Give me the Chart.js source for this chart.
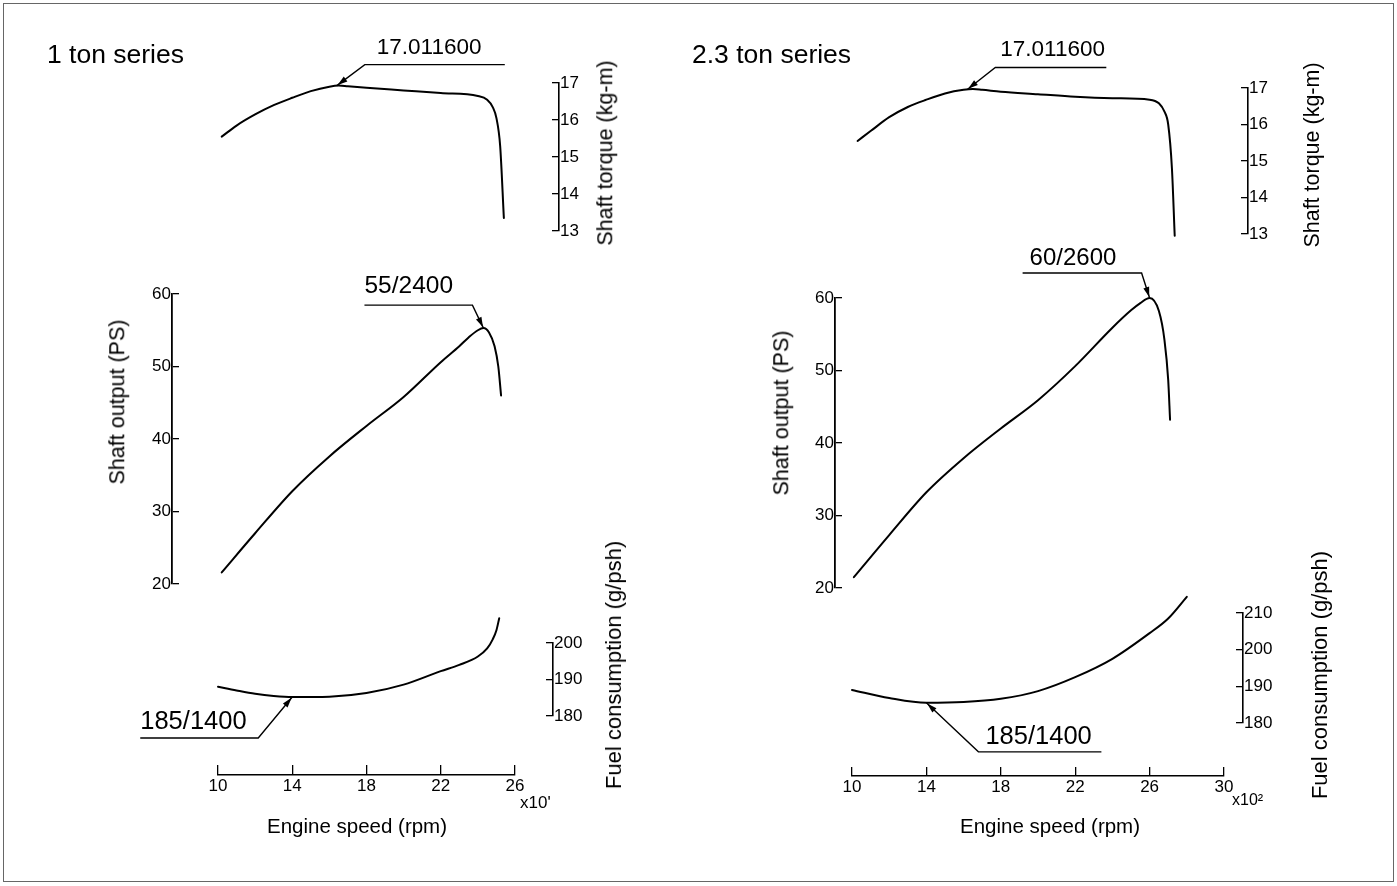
<!DOCTYPE html>
<html>
<head>
<meta charset="utf-8">
<script src="https://cdn.jsdelivr.net/npm/chart.js@4.4.1/dist/chart.umd.min.js"></script>
<style>
  html, body { margin:0; padding:0; background:#fff; }
  #root { position:relative; width:1397px; height:886px; overflow:hidden; font-family:"Liberation Sans", Arial, sans-serif; color:#000; }
  .frame { position:absolute; left:3px; top:3px; width:1389px; height:877px; border:1px solid #666; }
  .txt { position:absolute; white-space:nowrap; line-height:1; }
  .vt { position:absolute; white-space:nowrap; line-height:1; transform:translate(-50%,-50%) rotate(-90deg); }
  .ct { position:absolute; white-space:nowrap; line-height:1; transform:translate(-50%,-50%); }
  canvas { position:absolute; left:0; top:0; }
</style>
</head>
<body>
<div id="root"><div class="frame"></div></div>
<script>
// ---------------- DATA ----------------
// Left panel: 1 ton series
const rpmTorque1   = [1020, 1100, 1200, 1300, 1400, 1500, 1600, 1650, 1700, 1800, 2000, 2200, 2400, 2450, 2480, 2500, 2520, 2540];
const torque1      = [15.55, 15.85, 16.15, 16.4, 16.6, 16.78, 16.9, 16.93, 16.91, 16.87, 16.8, 16.73, 16.65, 16.55, 16.35, 16.05, 15.3, 13.35];
const rpmOutput1   = [1020, 1200, 1400, 1600, 1800, 2000, 2200, 2300, 2350, 2400, 2430, 2460, 2490, 2510, 2525];
const output1      = [21.6, 27.0, 32.8, 37.6, 41.8, 45.8, 50.6, 52.8, 54.0, 55.0, 55.3, 54.7, 52.8, 50.0, 46.0];
const rpmFuel1     = [1000, 1100, 1200, 1300, 1400, 1600, 1800, 2000, 2200, 2300, 2400, 2450, 2480, 2500, 2515];
const fuel1        = [188, 187, 186.1, 185.5, 185.2, 185.3, 186.3, 188.6, 192.3, 194, 196.3, 198.5, 201, 203.5, 206.8];

// Right panel: 2.3 ton series
const rpmTorque2   = [1030, 1100, 1200, 1300, 1400, 1500, 1600, 1650, 1700, 1800, 2000, 2200, 2400, 2600, 2650, 2680, 2700, 2720, 2735];
const torque2      = [15.55, 15.82, 16.2, 16.48, 16.68, 16.85, 16.95, 16.97, 16.95, 16.9, 16.83, 16.76, 16.72, 16.68, 16.58, 16.35, 16.0, 14.8, 12.95];
const rpmOutput2   = [1010, 1200, 1400, 1600, 1800, 2000, 2200, 2400, 2500, 2550, 2600, 2650, 2680, 2700, 2710];
const output2      = [21.5, 27.3, 33.2, 37.9, 42.0, 45.9, 50.6, 55.9, 58.3, 59.3, 60.0, 58.2, 54.2, 48.7, 43.2];
const rpmFuel2     = [1000, 1200, 1400, 1600, 1800, 2000, 2200, 2400, 2600, 2700, 2800];
const fuel2        = [189, 186.8, 185.5, 185.7, 186.6, 188.7, 192.5, 197.5, 204.5, 208.5, 214.4];

// Tick labels
const xTicks1       = [10, 14, 18, 22, 26];        // x100 rpm
const xTicks2       = [10, 14, 18, 22, 26, 30];
const torqueTicks   = [13, 14, 15, 16, 17];
const outputTicks   = [20, 30, 40, 50, 60];
const fuelTicks1    = [180, 190, 200];
const fuelTicks2    = [180, 190, 200, 210];

// Annotations: [rpm, value, label]
const annTorque1 = [1640, 16.93, '17.011600'];
const annOutput1 = [2430, 55.3, '55/2400'];
const annFuel1   = [1400, 185.2, '185/1400'];
const annTorque2 = [1620, 16.96, '17.011600'];
const annOutput2 = [2600, 60.0, '60/2600'];
const annFuel2   = [1400, 185.5, '185/1400'];

// ---------------- LAYOUT / STYLE ----------------
const FONT = '"Liberation Sans", Arial, sans-serif';
const root = document.getElementById('root');
Chart.defaults.font.family = FONT;
Chart.defaults.color = '#000';

function addChart(left, top, width, height, config) {
  const div = document.createElement('div');
  div.style.cssText = `position:absolute;left:${left}px;top:${top}px;width:${width}px;height:${height}px;`;
  const c = document.createElement('canvas');
  c.width = width; c.height = height;
  c.style.width = width + 'px'; c.style.height = height + 'px';
  div.appendChild(c); root.appendChild(div);
  config.options = Object.assign({ responsive:false, animation:false, devicePixelRatio:1,
    events:[] }, config.options);
  config.options.plugins = Object.assign({ legend:{display:false}, tooltip:{enabled:false} }, config.options.plugins || {});
  return new Chart(c, config);
}

function leader(ann, geom) {
  return {
    id: 'leader',
    afterDatasetsDraw(chart) {
      const { ctx, scales } = chart;
      const ax = scales.x.getPixelForValue(ann[0]);
      const ay = scales.y.getPixelForValue(ann[1]);
      ctx.save();
      ctx.strokeStyle = '#000'; ctx.fillStyle = '#000'; ctx.lineWidth = 1.4;
      ctx.beginPath(); ctx.moveTo(ax, ay);
      geom.path.forEach(([dx, dy]) => ctx.lineTo(ax + dx, ay + dy));
      ctx.stroke();
      const [dx, dy] = geom.path[0];
      const L = Math.hypot(dx, dy), ux = dx / L, uy = dy / L, len = 11, w = 3;
      ctx.beginPath();
      ctx.moveTo(ax + ux, ay + uy);
      ctx.lineTo(ax + ux * len - uy * w, ay + uy * len + ux * w);
      ctx.lineTo(ax + ux * len + uy * w, ay + uy * len - ux * w);
      ctx.closePath(); ctx.fill();
      ctx.font = `${geom.size}px ${FONT}`;
      ctx.textAlign = 'left'; ctx.textBaseline = 'middle';
      ctx.fillText(ann[2], ax + geom.text[0], ay + geom.text[1]);
      ctx.restore();
    }
  };
}

// Data chart: chart area equals the band exactly
function dataChart(panel, band, xs, ys, yMin, yMax, ann, geom) {
  const P = 110;
  const w = panel.x1 - panel.x0, h = band.bottom - band.top;
  addChart(panel.x0 - P, band.top - P, w + 2 * P, h + 2 * P, {
    type: 'line',
    data: { datasets: [{
      data: xs.map((x, i) => ({ x, y: ys[i] })),
      borderColor: '#000', borderWidth: 2, pointRadius: 0, fill: false,
      cubicInterpolationMode: 'monotone', clip: false, borderCapStyle: 'round', borderJoinStyle: 'round'
    }] },
    options: {
      layout: { padding: P },
      scales: {
        x: { type: 'linear', min: panel.xmin, max: panel.xmax, display: false },
        y: { type: 'linear', min: yMin, max: yMax, display: false }
      }
    },
    plugins: [leader(ann, geom)]
  });
}

const tickFont = { size: 17, family: FONT };

// Vertical axis with tick marks to the left of the line and labels to the right
function axisTicksLeft(lineX, band, tickVals, tick) {
  const P = 15, W = 50;
  const h = band.bottom - band.top;
  addChart(lineX - tick, band.top - P, tick + W, h + 2 * P, {
    type: 'scatter', data: { datasets: [] },
    options: {
      layout: { padding: { top: P, bottom: P, left: 0, right: 0 } },
      scales: {
        x: { display: false },
        y: { type: 'linear', position: 'right', min: tickVals[0], max: tickVals[tickVals.length - 1],
             afterBuildTicks: s => { s.ticks = tickVals.map(v => ({ value: v })); },
             afterFit: s => { s.width = W; },
             ticks: { padding: 1, font: tickFont, color: '#000' },
             grid: { drawOnChartArea: true, drawTicks: false, color: '#000', lineWidth: 1.3 },
             border: { display: true, color: '#000', width: 1.6 } }
      }
    }
  });
}

// Vertical axis with tick marks to the right of the line and labels to the left
function axisTicksRight(lineX, band, tickVals, tick) {
  const P = 15, W = 50;
  const h = band.bottom - band.top;
  addChart(lineX - W, band.top - P, tick + W, h + 2 * P, {
    type: 'scatter', data: { datasets: [] },
    options: {
      layout: { padding: { top: P, bottom: P, left: 0, right: 0 } },
      scales: {
        x: { display: false },
        y: { type: 'linear', position: 'left', min: tickVals[0], max: tickVals[tickVals.length - 1],
             afterBuildTicks: s => { s.ticks = tickVals.map(v => ({ value: v })); },
             afterFit: s => { s.width = W; },
             ticks: { padding: 1, font: tickFont, color: '#000' },
             grid: { drawOnChartArea: true, drawTicks: false, color: '#000', lineWidth: 1.3 },
             border: { display: true, color: '#000', width: 1.8 } }
      }
    }
  });
}

// Horizontal axis with ticks pointing up and labels below
function axisX(panel, axisY, tickVals, tick) {
  const Q = 20, H = 30;
  addChart(panel.x0 - Q, axisY - tick, panel.x1 - panel.x0 + 2 * Q, tick + H, {
    type: 'scatter', data: { datasets: [] },
    options: {
      layout: { padding: { left: Q, right: Q, top: 0, bottom: 0 } },
      scales: {
        y: { display: false },
        x: { type: 'linear', position: 'bottom', min: panel.xmin, max: panel.xmax,
             afterBuildTicks: s => { s.ticks = tickVals.map(v => ({ value: v * 100 })); },
             afterFit: s => { s.height = H; },
             ticks: { padding: 1, font: tickFont, color: '#000', callback: v => String(v / 100), maxRotation: 0 },
             grid: { drawOnChartArea: true, drawTicks: false, color: '#000', lineWidth: 1.3 },
             border: { display: true, color: '#000', width: 1.6 } }
      }
    }
  });
}

function text(cls, x, y, s, size, extra) {
  const d = document.createElement('div');
  d.className = cls; d.textContent = s;
  d.style.left = x + 'px'; d.style.top = y + 'px'; d.style.fontSize = size + 'px';
  if (extra) Object.assign(d.style, extra);
  root.appendChild(d);
}

// ---------------- PANELS ----------------
const panel1 = { x0: 218, x1: 515, xmin: 1000, xmax: 2600 };
const panel2 = { x0: 852, x1: 1224, xmin: 1000, xmax: 3000 };

// Left panel
const tBand1 = { top: 83, bottom: 231 }, oBand1 = { top: 294, bottom: 584 }, fBand1 = { top: 643, bottom: 716 };
dataChart(panel1, tBand1, rpmTorque1, torque1, 13, 17, annTorque1, { path: [[28, -21], [168, -21]], text: [40, -38], size: 22.5 });
dataChart(panel1, oBand1, rpmOutput1, output1, 20, 60, annOutput1, { path: [[-11, -23], [-119, -23]], text: [-119, -42], size: 24.5 });
dataChart(panel1, fBand1, rpmFuel1, fuel1, 180, 200, annFuel1, { path: [[-34, 41], [-152, 41]], text: [-152, 25], size: 25.5 });
axisTicksLeft(559, tBand1, torqueTicks, 7);
axisTicksRight(172, oBand1, outputTicks, 7);
axisTicksLeft(553, fBand1, fuelTicks1, 7);
axisX(panel1, 775, xTicks1, 10);

// Right panel
const tBand2 = { top: 88, bottom: 234 }, oBand2 = { top: 298, bottom: 588 }, fBand2 = { top: 613, bottom: 723 };
dataChart(panel2, tBand2, rpmTorque2, torque2, 13, 17, annTorque2, { path: [[28, -22], [139, -22]], text: [33, -40], size: 22.5 });
dataChart(panel2, oBand2, rpmOutput2, output2, 20, 60, annOutput2, { path: [[-8, -25], [-127, -25]], text: [-120, -40], size: 24 });
dataChart(panel2, fBand2, rpmFuel2, fuel2, 180, 210, annFuel2, { path: [[52, 49], [175, 49]], text: [59, 34], size: 25.5 });
axisTicksLeft(1248, tBand2, torqueTicks, 7);
axisTicksRight(835, oBand2, outputTicks, 7);
axisTicksLeft(1243, fBand2, fuelTicks2, 7);
axisX(panel2, 776, xTicks2, 9);

// Titles and axis labels
text('txt', 47, 41, '1 ton series', 26.5);
text('txt', 692, 41, '2.3 ton series', 26.5);
text('vt', 606, 153, 'Shaft torque (kg-m)', 21.5);
text('vt', 1313, 155, 'Shaft torque (kg-m)', 21.5);
text('vt', 118, 402, 'Shaft output (PS)', 21.5);
text('vt', 782, 413, 'Shaft output (PS)', 21.5);
text('vt', 614, 665, 'Fuel consumption (g/psh)', 22);
text('vt', 1320, 675, 'Fuel consumption (g/psh)', 22);
text('ct', 357, 826, 'Engine speed (rpm)', 20.5);
text('ct', 1050, 826, 'Engine speed (rpm)', 20.5);
text('txt', 520, 794, "x10'", 17);
text('txt', 1232, 792, 'x10²', 16);
</script>
</body>
</html>
